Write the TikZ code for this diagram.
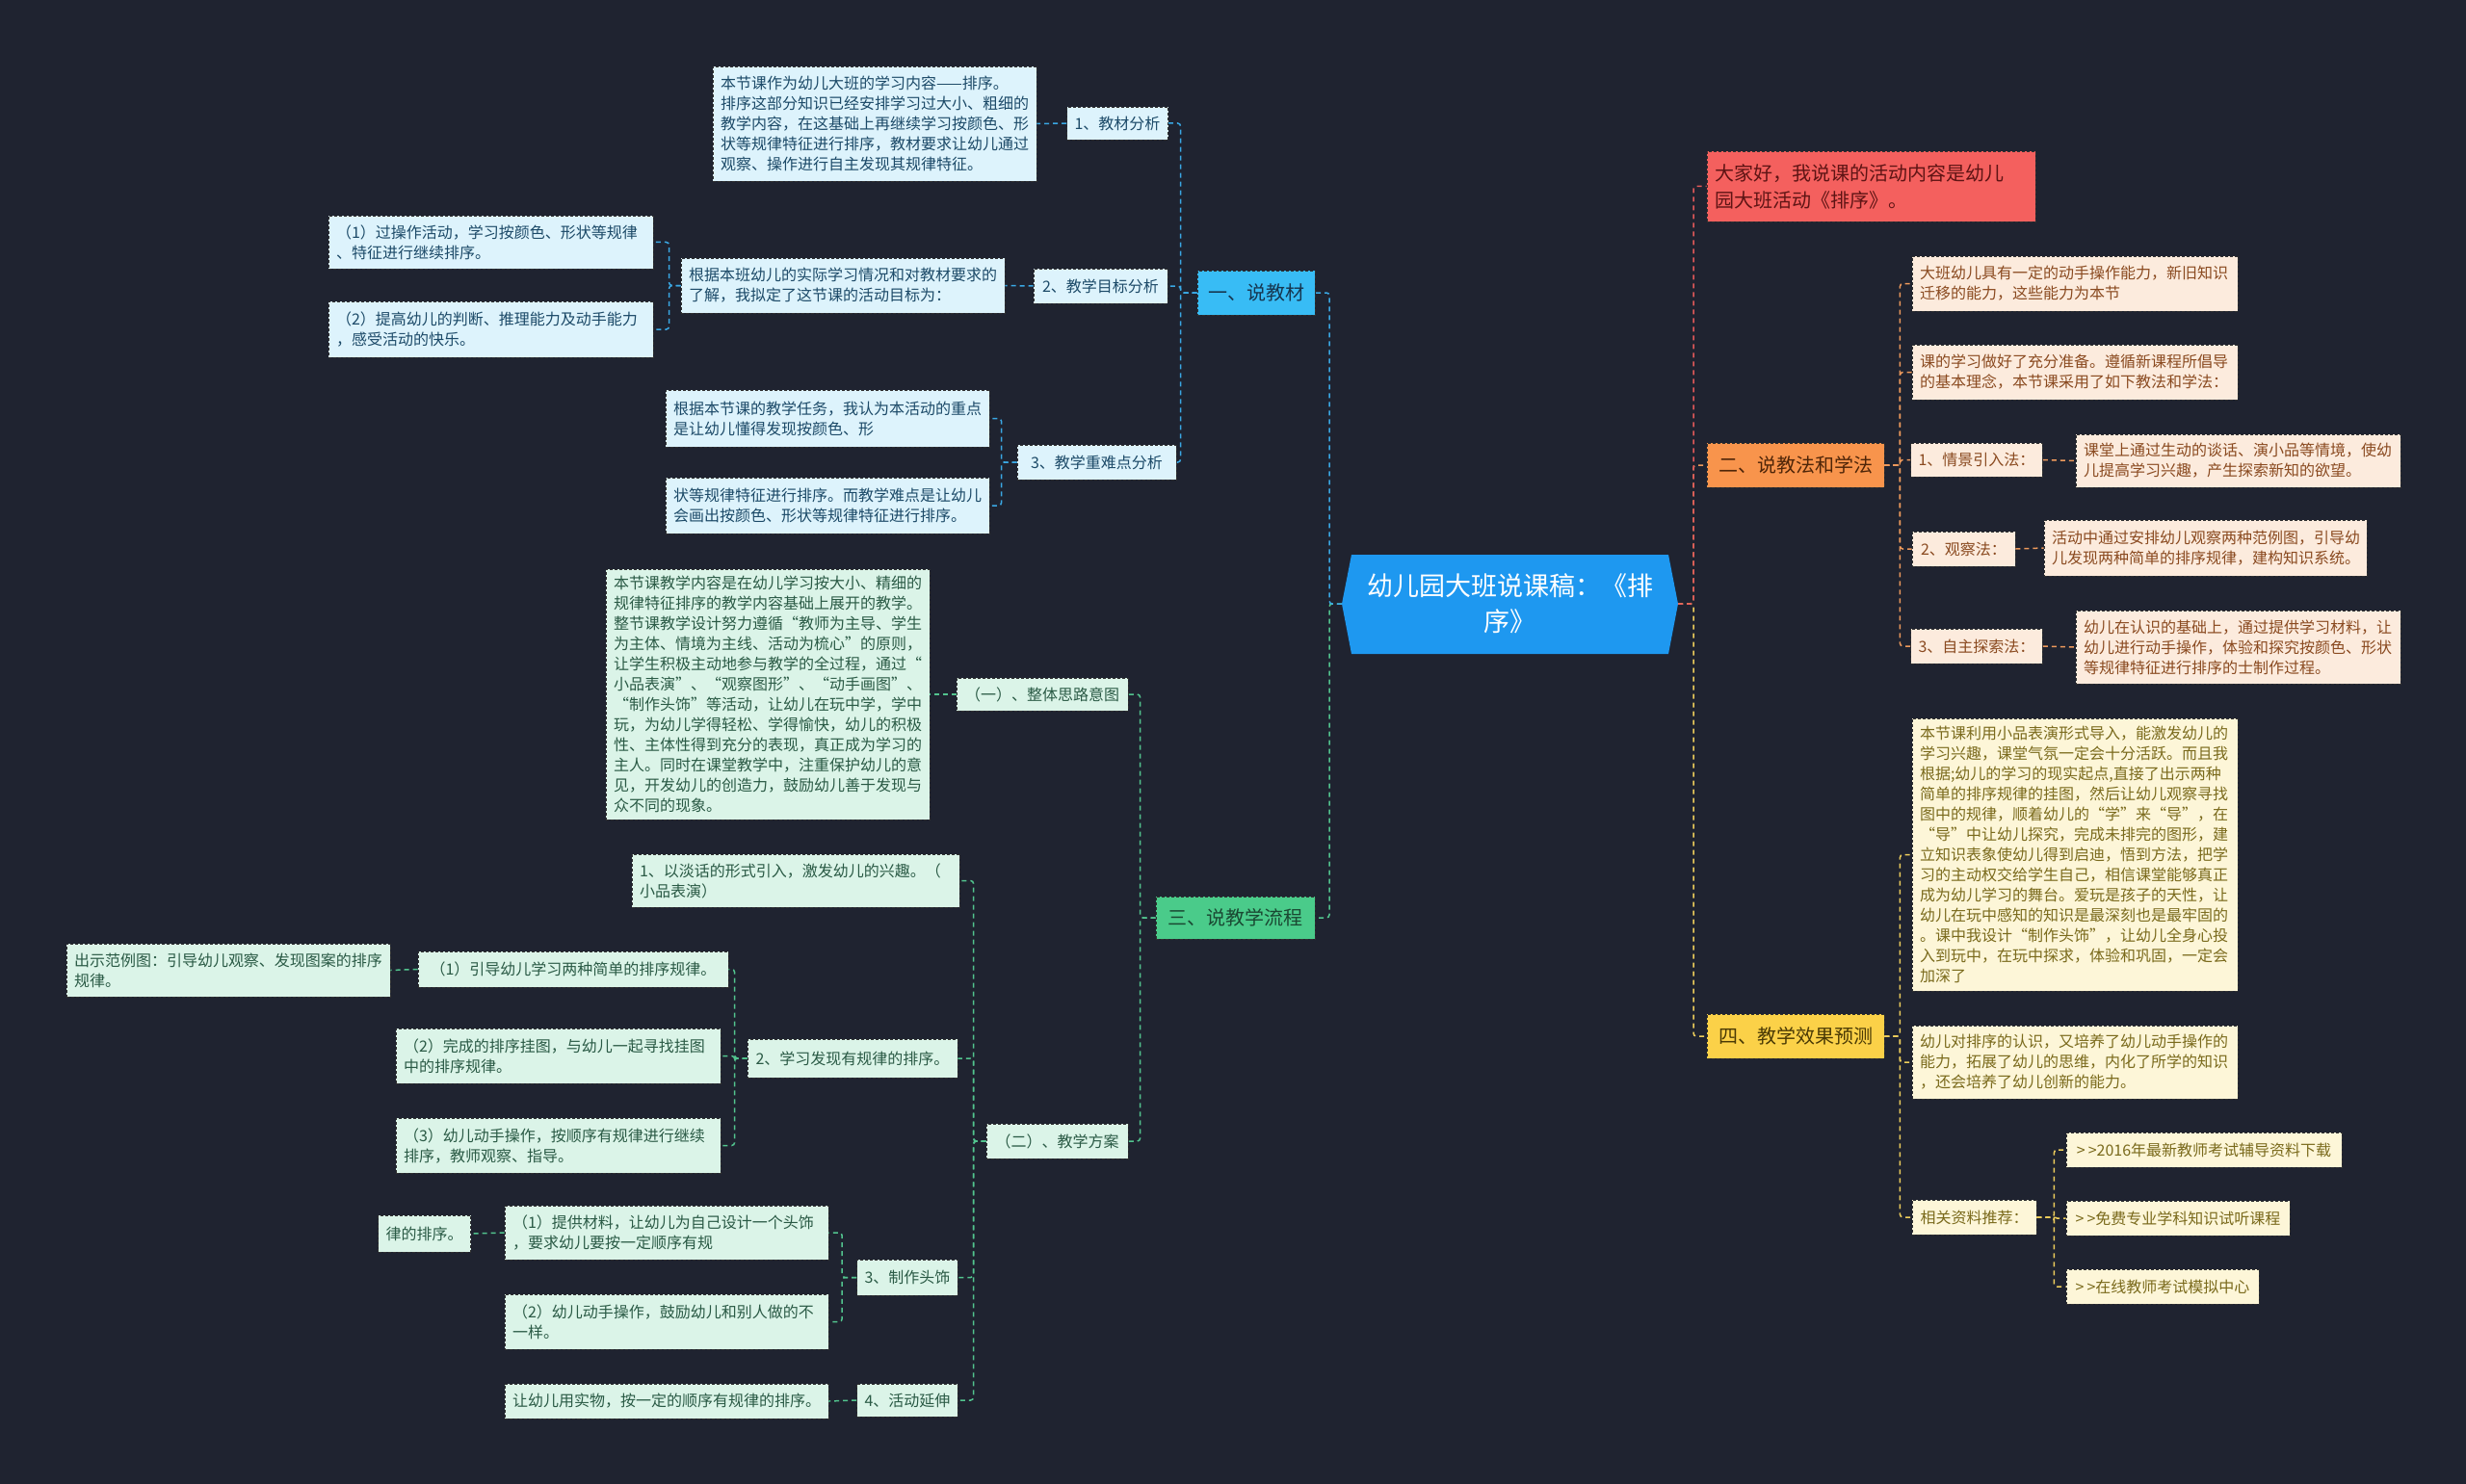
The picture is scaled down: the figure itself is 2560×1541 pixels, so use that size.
\documentclass[tikz,border=0pt]{standalone}
\usepackage{fontspec}
\setmainfont{Noto Sans CJK SC}
\definecolor{bgc}{HTML}{1F2330}
\definecolor{cfill}{HTML}{1E98F0}
\definecolor{bmain}{HTML}{38BCF5}
\definecolor{bmaintext}{HTML}{163650}
\definecolor{bfill}{HTML}{DDF3FC}
\definecolor{btext}{HTML}{1C4A68}
\definecolor{bline}{HTML}{3AA8E4}
\definecolor{gmain}{HTML}{4ACB8A}
\definecolor{gmaintext}{HTML}{1A4832}
\definecolor{gfill}{HTML}{DBF4E8}
\definecolor{gtext}{HTML}{2A5A45}
\definecolor{gline}{HTML}{52C48E}
\definecolor{rmain}{HTML}{F4605E}
\definecolor{rtext}{HTML}{5E1414}
\definecolor{rline}{HTML}{E45A5A}
\definecolor{omain}{HTML}{F8944C}
\definecolor{omaintext}{HTML}{4E2508}
\definecolor{ofill}{HTML}{FCEBDD}
\definecolor{otext}{HTML}{8A4A20}
\definecolor{oline}{HTML}{EE9A5C}
\definecolor{ymain}{HTML}{FBD148}
\definecolor{ymaintext}{HTML}{4A3A05}
\definecolor{yfill}{HTML}{FDF6D8}
\definecolor{ytext}{HTML}{7A6A1C}
\definecolor{yline}{HTML}{EFCF5C}
\definecolor{boxline}{HTML}{303030}
\newcommand\fsS{\fontsize{16}{21}\selectfont}
\newcommand\fsM{\fontsize{20}{28}\selectfont}
\newcommand\fsL{\fontsize{27}{37}\selectfont}
\newcommand\gtgt{>\kern3pt{}>}
\begin{document}
\begin{tikzpicture}[x=1pt,y=-1pt,
  bx/.style={rectangle, draw=boxline, dash pattern=on 3pt off 2pt, line width=0.8pt, inner xsep=8pt, inner ysep=3pt, font=\fsS},
  bt/.style={bx, fill=bfill, text=btext},
  gt/.style={bx, fill=gfill, text=gtext},
  ot/.style={bx, fill=ofill, text=otext},
  yt/.style={bx, fill=yfill, text=ytext},
  ml/.style={text width=#1, align=left},
  sz/.style 2 args={minimum width=#1, minimum height=#2},
  con/.style={line width=1.5pt, dash pattern=on 5pt off 4pt, rounded corners=3pt},
]
\fill[bgc] (0,0) rectangle (2560,1541);
\useasboundingbox (0,0) rectangle (2560,1541);

% central node
\fill[cfill] (1393,627) -- (1403,576) -- (1732,576) -- (1742,627) -- (1732,679) -- (1403,679) -- cycle;
\node[text=white, font=\fsL, align=center, minimum width=349, minimum height=103, inner sep=0pt] (C) at (1567.5,627) {幼儿园大班说课稿：《排\\序》};
\coordinate (LT) at (1380,627);
\coordinate (RT) at (1758,627);

% ---------- blue branch ----------
\node[bx, fill=bmain, text=bmaintext, font=\fsM, sz={122}{46}] (B0) at (1304,304) {一、说教材};
\node[bt, sz={105}{34}] (Bjc) at (1160,128) {1、教材分析};
\node[bt, ml=320pt, minimum height=119] (B1) at (908,128.5) {本节课作为幼儿大班的学习内容——排序。\\排序这部分知识已经安排学习过大小、粗细的\\教学内容，在这基础上再继续学习按颜色、形\\状等规律特征进行排序，教材要求让幼儿通过\\观察、操作进行自主发现其规律特征。};
\node[bt, sz={139}{36}] (B2) at (1142.5,297) {2、教学目标分析};
\node[bt, ml=320pt, minimum height=57] (B2t) at (875,296.5) {根据本班幼儿的实际学习情况和对教材要求的\\了解，我拟定了这节课的活动目标为：};
\node[bt, ml=321pt, minimum height=55] (B2a) at (509.5,251.5) {（1）过操作活动，学习按颜色、形状等规律\\、特征进行继续排序。};
\node[bt, ml=321pt, minimum height=58] (B2b) at (509.5,342) {（2）提高幼儿的判断、推理能力及动手能力\\，感受活动的快乐。};
\node[bt, sz={165}{36}] (B3) at (1138.5,480) {3、教学重难点分析};
\node[bt, ml=320pt, minimum height=59] (B3a) at (859,434.5) {根据本节课的教学任务，我认为本活动的重点\\是让幼儿懂得发现按颜色、形};
\node[bt, ml=320pt, minimum height=58] (B3b) at (859,525) {状等规律特征进行排序。而教学难点是让幼儿\\会画出按颜色、形状等规律特征进行排序。};

% ---------- green branch ----------
\node[bx, fill=gmain, text=gmaintext, font=\fsM, sz={165}{44}] (G0) at (1282.5,953) {三、说教学流程};
\node[gt, sz={178}{34}] (G1) at (1082,721) {（一）、整体思路意图};
\node[gt, ml=320pt, minimum height=260] (G1t) at (797,721) {本节课教学内容是在幼儿学习按大小、精细的\\规律特征排序的教学内容基础上展开的教学。\\整节课教学设计努力遵循“教师为主导、学生\\为主体、情境为主线、活动为梳心”的原则，\\让学生积极主动地参与教学的全过程，通过“\\小品表演”、“观察图形”、“动手画图”、\\“制作头饰”等活动，让幼儿在玩中学，学中\\玩，为幼儿学得轻松、学得愉快，幼儿的积极\\性、主体性得到充分的表现，真正成为学习的\\主人。同时在课堂教学中，注重保护幼儿的意\\见，开发幼儿的创造力，鼓励幼儿善于发现与\\众不同的现象。};
\node[gt, sz={147}{36}] (G2) at (1097.5,1185) {（二）、教学方案};
\node[gt, ml=324pt, minimum height=55] (G2a) at (826,914.5) {1、以淡话的形式引入，激发幼儿的兴趣。（\\小品表演）};
\node[gt, sz={218}{40}] (G2b) at (885,1099) {2、学习发现有规律的排序。};
\node[gt, sz={322}{37}] (G2b1) at (595,1006.5) {（1）引导幼儿学习两种简单的排序规律。};
\node[gt, ml=320pt, minimum height=55] (G2b1a) at (237,1007.5) {出示范例图：引导幼儿观察、发现图案的排序\\规律。};
\node[gt, ml=321pt, minimum height=57] (G2b2) at (579.5,1096.5) {（2）完成的排序挂图，与幼儿一起寻找挂图\\中的排序规律。};
\node[gt, ml=321pt, minimum height=57] (G2b3) at (579.5,1189.5) {（3）幼儿动手操作，按顺序有规律进行继续\\排序，教师观察、指导。};
\node[gt, sz={104}{37}] (G2c) at (942,1326.5) {3、制作头饰};
\node[gt, ml=320pt, minimum height=56] (G2c1) at (692,1280) {（1）提供材料，让幼儿为自己设计一个头饰\\，要求幼儿要按一定顺序有规};
\node[gt, sz={85}{38}] (G2c1a) at (440.5,1281) {律的排序。};
\node[gt, ml=320pt, minimum height=57] (G2c2) at (692,1372.5) {（2）幼儿动手操作，鼓励幼儿和别人做的不\\一样。};
\node[gt, sz={104}{34}] (G2d) at (942,1454) {4、活动延伸};
\node[gt, ml=320pt, minimum height=36] (G2d1) at (692,1455) {让幼儿用实物，按一定的顺序有规律的排序。};

% ---------- red ----------
\node[bx, fill=rmain, text=rtext, font=\fsM, ml=325pt, minimum height=73] (R1) at (1942.5,193.5) {大家好，我说课的活动内容是幼儿\\园大班活动《排序》。};

% ---------- orange branch ----------
\node[bx, fill=omain, text=omaintext, font=\fsM, sz={184}{46}] (O0) at (1864,483) {二、说教法和学法};
\node[ot, ml=322pt, minimum height=57] (O1) at (2154,294.5) {大班幼儿具有一定的动手操作能力，新旧知识\\迁移的能力，这些能力为本节};
\node[ot, ml=322pt, minimum height=57] (O2) at (2154,386.5) {课的学习做好了充分准备。遵循新课程所倡导\\的基本理念，本节课采用了如下教法和学法：};
\node[ot, sz={134}{35}] (O3) at (2052,477.5) {1、情景引入法：};
\node[ot, ml=321pt, minimum height=55] (O3a) at (2323.5,478.5) {课堂上通过生动的谈话、演小品等情境，使幼\\儿提高学习兴趣，产生探索新知的欲望。};
\node[ot, sz={107}{36}] (O4) at (2038.5,570) {2、观察法：};
\node[ot, ml=319pt, minimum height=58] (O4a) at (2289.5,569) {活动中通过安排幼儿观察两种范例图，引导幼\\儿发现两种简单的排序规律，建构知识系统。};
\node[ot, sz={134}{36}] (O5) at (2052,671) {3、自主探索法：};
\node[ot, ml=321pt, minimum height=76] (O5a) at (2323.5,672) {幼儿在认识的基础上，通过提供学习材料，让\\幼儿进行动手操作，体验和探究按颜色、形状\\等规律特征进行排序的士制作过程。};

% ---------- yellow branch ----------
\node[bx, fill=ymain, text=ymaintext, font=\fsM, sz={184}{46}] (Y0) at (1864,1076) {四、教学效果预测};
\node[yt, ml=322pt, minimum height=283] (Y1) at (2154,887.5) {本节课利用小品表演形式导入，能激发幼儿的\\学习兴趣，课堂气氛一定会十分活跃。而且我\\根据;幼儿的学习的现实起点,直接了出示两种\\简单的排序规律的挂图，然后让幼儿观察寻找\\图中的规律，顺着幼儿的“学”来“导”，在\\“导”中让幼儿探究，完成未排完的图形，建\\立知识表象使幼儿得到启迪，悟到方法，把学\\习的主动权交给学生自己，相信课堂能够真正\\成为幼儿学习的舞台。爱玩是孩子的天性，让\\幼儿在玩中感知的知识是最深刻也是最牢固的\\。课中我设计“制作头饰”，让幼儿全身心投\\入到玩中，在玩中探求，体验和巩固，一定会\\加深了};
\node[yt, ml=322pt, minimum height=76] (Y2) at (2154,1103) {幼儿对排序的认识，又培养了幼儿动手操作的\\能力，拓展了幼儿的思维，内化了所学的知识\\，还会培养了幼儿创新的能力。};
\node[yt, sz={129}{36}] (Y3) at (2049.5,1264) {相关资料推荐：};
\node[yt, sz={286}{36}] (Y3a) at (2288,1194) {\gtgt2016年最新教师考试辅导资料下载};
\node[yt, sz={232}{36}] (Y3b) at (2261,1265) {\gtgt 免费专业学科知识试听课程};
\node[yt, sz={200}{36}] (Y3c) at (2245,1336) {\gtgt 在线教师考试模拟中心};

% ---------- connectors ----------
\draw[con, gline] (C.west) -- (LT) |- (G0.east);
\draw[con, bline] (C.west) -- (LT) |- (B0.east);
\foreach \n in {Bjc,B2,B3} \draw[con, bline] (B0.west) -- ++(-17,0) |- (\n.east);
\draw[con, bline] (Bjc.west) -- (B1.east);
\draw[con, bline] (B2.west) -- (B2t.east);
\foreach \n in {B2a,B2b} \draw[con, bline] (B2t.west) -- ++(-12,0) |- (\n.east);
\foreach \n in {B3a,B3b} \draw[con, bline] (B3.west) -- ++(-16,0) |- (\n.east);

\foreach \n in {G1,G2} \draw[con, gline] (G0.west) -- ++(-16,0) |- (\n.east);
\draw[con, gline] (G1.west) -- (G1t.east);
\foreach \n in {G2a,G2b,G2c,G2d} \draw[con, gline] (G2.west) -- ++(-13,0) |- (\n.east);
\foreach \n in {G2b1,G2b2,G2b3} \draw[con, gline] (G2b.west) -- ++(-13,0) |- (\n.east);
\draw[con, gline] (G2b1.west) -- (G2b1a.east);
\foreach \n in {G2c1,G2c2} \draw[con, gline] (G2c.west) -- ++(-15,0) |- (\n.east);
\draw[con, gline] (G2c1.west) -- (G2c1a.east);
\draw[con, gline] (G2d.west) -- (G2d1.east);

\draw[con, yline] (C.east) -- (RT) |- (Y0.west);
\draw[con, oline] (C.east) -- (RT) |- (O0.west);
\draw[con, rline] (C.east) -- (RT) |- (R1.west);
\foreach \n in {O1,O2,O3,O4,O5} \draw[con, oline] (O0.east) -- ++(16,0) |- (\n.west);
\draw[con, oline] (O3.east) -- (O3a.west);
\draw[con, oline] (O4.east) -- (O4a.west);
\draw[con, oline] (O5.east) -- (O5a.west);
\foreach \n in {Y1,Y2,Y3} \draw[con, yline] (Y0.east) -- ++(16,0) |- (\n.west);
\foreach \n in {Y3a,Y3b,Y3c} \draw[con, yline] (Y3.east) -- ++(18,0) |- (\n.west);
\end{tikzpicture}
\end{document}
